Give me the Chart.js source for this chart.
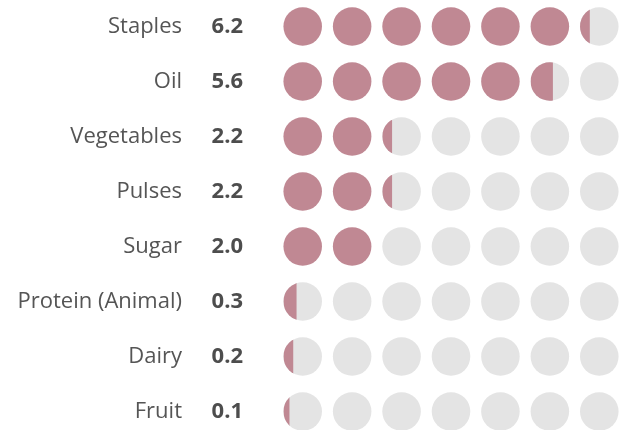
<!DOCTYPE html>
<html>
<head>
<meta charset="utf-8">
<script src="https://cdn.jsdelivr.net/npm/chart.js@4.4.0/dist/chart.umd.min.js"></script>
<style>
  html, body { margin: 0; padding: 0; background: #fff; }
  #wrap { width: 629px; height: 430px; }
</style>
</head>
<body>
<div id="wrap"><canvas id="foodGroups"></canvas></div>
<script>
// daily servings per food group
const foodGroups = ['Staples', 'Oil', 'Vegetables', 'Pulses', 'Sugar', 'Protein (Animal)', 'Dairy', 'Fruit'];
const servings = [6.2, 5.6, 2.2, 2.2, 2.0, 0.3, 0.2, 0.1];
const dotsPerRow = 7;

const FILL = '#c08893';
const EMPTY = '#e4e4e4';
const FONT = '"Open Sans", "Noto Sans", sans-serif';

// width of a circle slice (as share of the diameter) that covers `f` of its area
function sliceWidth(f) {
    let lo = 0, hi = 1;
    for (let k = 0; k < 40; k++) {
        const h = (lo + hi) / 2;
        const r = 0.5, d = r - h;
        const area = r * r * Math.acos(d / r) - d * Math.sqrt(2 * r * h - h * h);
        if (area / (Math.PI * r * r) < f) lo = h; else hi = h;
    }
    return (lo + hi) / 2;
}

function dot(ctx, cx, cy, r, color) {
    ctx.beginPath();
    ctx.arc(cx, cy, r, 0, Math.PI * 2);
    ctx.fillStyle = color;
    ctx.fill();
}

// each row: a line of dots, filled left to right up to the row's value
const dotRows = {
    id: 'dotRows',
    afterDatasetsDraw(chart) {
        const ctx = chart.ctx;
        const x = chart.scales.x;
        const unit = x.getPixelForValue(1) - x.getPixelForValue(0);
        const r = unit * 0.39;
        chart.getDatasetMeta(0).data.forEach((bar, row) => {
            const value = servings[row];
            const cy = bar.y;
            for (let i = 0; i < dotsPerRow; i++) {
                const cx = x.getPixelForValue(i + 0.5);
                const f = Math.min(Math.max(value - i, 0), 1);
                if (f >= 1) { dot(ctx, cx, cy, r, FILL); continue; }
                dot(ctx, cx, cy, r, EMPTY);
                if (f <= 0.0001) continue;
                ctx.save();
                ctx.beginPath();
                ctx.rect(cx - r, cy - r - 1, sliceWidth(f) * 2 * r, 2 * r + 2);
                ctx.clip();
                dot(ctx, cx, cy, r, FILL);
                ctx.restore();
            }
        });
    }
};

// label columns: fixed width, no extra room for label overhang
function fixColumn(width) {
    return s => {
        s.width = width;
        s.paddingTop = 0;
        s.paddingBottom = 0;
    };
}

new Chart(document.getElementById('foodGroups'), {
    type: 'bar',
    data: {
        labels: foodGroups,
        datasets: [{
            data: servings,
            backgroundColor: 'rgba(0,0,0,0)',
            borderWidth: 0
        }]
    },
    options: {
        indexAxis: 'y',
        responsive: true,
        maintainAspectRatio: false,
        animation: false,
        layout: { padding: { top: 26.5, bottom: 18.5, right: 5, left: 0 } },
        plugins: { legend: { display: false }, tooltip: { enabled: false } },
        scales: {
            x: { type: 'linear', min: 0, max: dotsPerRow, display: false },
            y: {
                type: 'category',
                position: 'left',
                weight: 1,
                offset: false,
                grid: { display: false, drawTicks: false },
                border: { display: false },
                ticks: { font: { family: FONT, size: 22 }, color: '#555555', padding: 18, autoSkip: false },
                afterFit: fixColumn(200)
            },
            amount: {
                type: 'category',
                labels: servings.map(v => v.toFixed(1)),
                position: 'left',
                weight: 0,
                offset: false,
                grid: { display: false, drawTicks: false },
                border: { display: false },
                ticks: { font: { family: FONT, size: 22, weight: 'bold' }, color: '#4d4d4d', padding: 35, autoSkip: false },
                afterFit: fixColumn(78)
            }
        }
    },
    plugins: [dotRows]
});
</script>
</body>
</html>
